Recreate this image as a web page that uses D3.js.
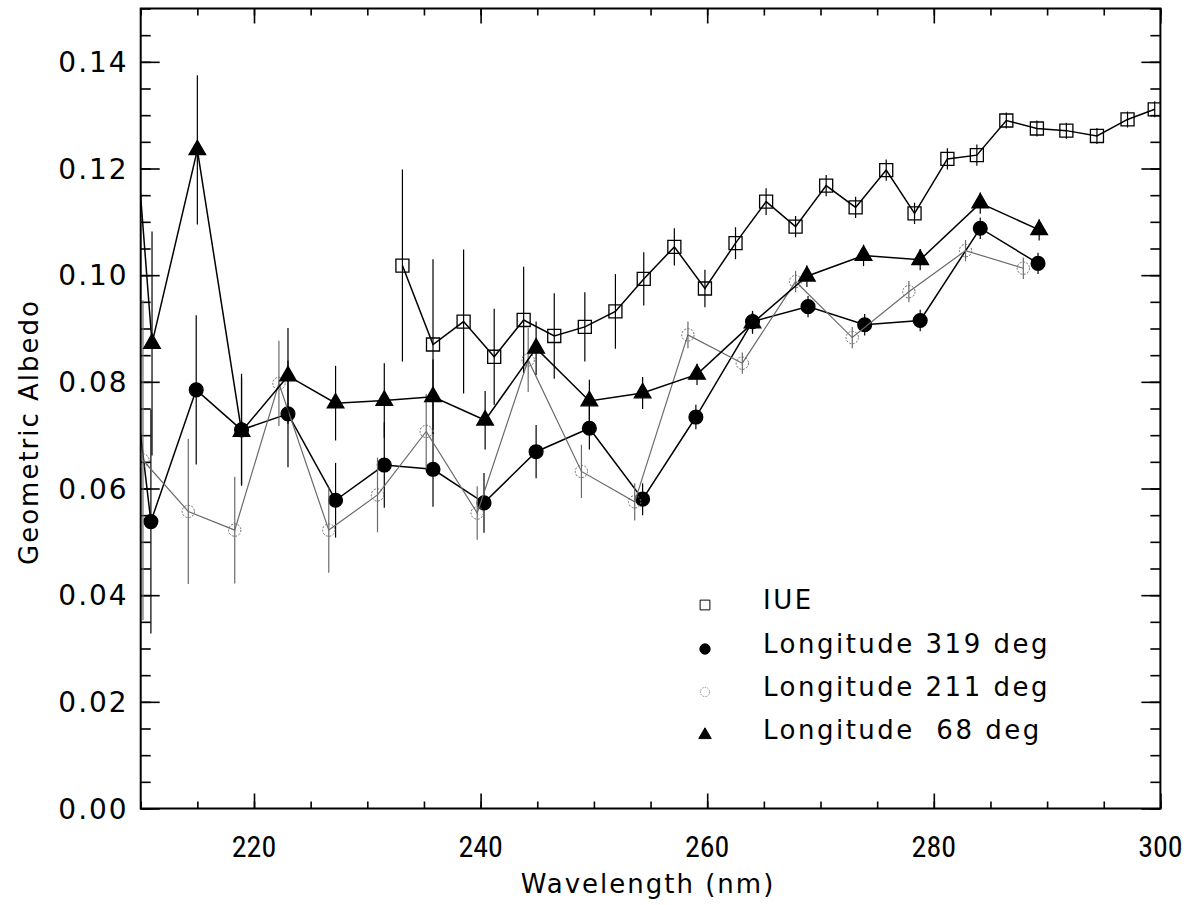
<!DOCTYPE html>
<html lang="en">
<head>
<meta charset="UTF-8">
<title>Geometric Albedo</title>
<script src="https://d3js.org/d3.v7.min.js"></script>
<style>
  body { margin: 0; background: #fff; }
  svg { display: block; }
</style>
</head>
<body>
<script>

// IUE
const iueWl = [233.1, 235.8, 238.5, 241.2, 243.8, 246.5, 249.2, 251.9, 254.4, 257.1, 259.8, 262.5, 265.2,
               267.8, 270.5, 273.1, 275.8, 278.3, 281.2, 283.8, 286.4, 289.1, 291.7, 294.4, 297.1, 299.5];
const iueAlb = [0.1018, 0.0870, 0.0913, 0.0847, 0.0916, 0.0886, 0.0903, 0.0932, 0.0993, 0.1053, 0.0975, 0.1060, 0.1138,
                0.1091, 0.1168, 0.1127, 0.1197, 0.1116, 0.1218, 0.1225, 0.1290, 0.1275, 0.1271, 0.1261, 0.1292, 0.1311];
const iueErr = [0.018, 0.016, 0.0135, 0.009, 0.010, 0.008, 0.0065, 0.007, 0.005, 0.0035, 0.0035, 0.003, 0.0025,
                0.002, 0.002, 0.002, 0.002, 0.002, 0.002, 0.002, 0.0015, 0.0015, 0.0015, 0.0015, 0.0015, 0.0015];

// Longitude 319 deg (first point lies left of the frame, only its line shows)
const lon319Wl = [207.0, 210.9, 214.9, 218.9, 223.0, 227.2, 231.5, 235.8, 240.3, 244.9, 249.6, 254.3, 259.0,
                  264.0, 268.9, 273.9, 278.8, 284.1, 289.2];
const lon319Alb = [0.124, 0.0538, 0.0785, 0.0710, 0.0740, 0.0578, 0.0644, 0.0636, 0.0573, 0.0669, 0.0713, 0.0580, 0.0734,
                   0.0913, 0.0941, 0.0907, 0.0915, 0.1088, 0.1022];
const lon319Err = [0, 0.021, 0.014, 0.0105, 0.010, 0.007, 0.008, 0.007, 0.0056, 0.005, 0.004, 0.003, 0.0023,
                   0.002, 0.002, 0.002, 0.002, 0.002, 0.002];

// Longitude 211 deg
const lon211Wl = [210.2, 214.2, 218.3, 222.2, 226.6, 230.9, 235.2, 239.7, 244.2, 248.9, 253.6, 258.3, 263.1,
                  267.8, 272.8, 277.8, 282.8, 287.9];
const lon211Alb = [0.0653, 0.0557, 0.0522, 0.0797, 0.0522, 0.0588, 0.0707, 0.0554, 0.0841, 0.0632, 0.0575, 0.0888, 0.0835,
                   0.0988, 0.0883, 0.0969, 0.1046, 0.1013];
const lon211Err = [0.03, 0.0136, 0.010, 0.008, 0.008, 0.007, 0.007, 0.005, 0.006, 0.005, 0.0035, 0.0025, 0.002,
                   0.002, 0.002, 0.002, 0.002, 0.002];

// Longitude 68 deg (first point lies left of the frame)
const lon68Wl = [207.0, 211.0, 215.0, 218.9, 223.0, 227.2, 231.5, 235.8, 240.4, 244.9, 249.6, 254.3, 259.1,
                 264.0, 268.8, 273.8, 278.8, 284.1, 289.3];
const lon68Alb = [0.197, 0.0872, 0.1235, 0.0707, 0.0811, 0.0760, 0.0765, 0.0772, 0.0728, 0.0863, 0.0764, 0.0779, 0.0814,
                  0.0910, 0.0998, 0.1037, 0.1029, 0.1135, 0.1085];
const lon68Err = [0, 0.021, 0.014, 0.010, 0.009, 0.007, 0.007, 0.007, 0.0055, 0.005, 0.004, 0.003, 0.002,
                  0.002, 0.002, 0.002, 0.002, 0.002, 0.002];

const xTicks = [220, 240, 260, 280, 300];
const yTicks = [0.00, 0.02, 0.04, 0.06, 0.08, 0.10, 0.12, 0.14];
const legendLabels = ['IUE', 'Longitude 319 deg', 'Longitude 211 deg', 'Longitude  68 deg'];

const W = 1194, H = 905;
const pLeft = 140.7, pRight = 1160.4, pTop = 8.5, pBottom = 808.5;
const textFont = 'DejaVu Sans';

const svg = d3.select('body').append('svg').attr('width', W).attr('height', H);

const x = d3.scaleLinear().domain([210, 300]).range([pLeft, pRight]);
const y = d3.scaleLinear().domain([0, 0.15]).range([pBottom, pTop]);

svg.append('clipPath').attr('id', 'plot')
   .append('rect').attr('x', pLeft).attr('y', pTop).attr('width', pRight - pLeft).attr('height', pBottom - pTop);

// axes: ticks inward on all four sides
const xMinor = d3.range(210, 300.1, 5);
const yMinor = d3.range(0, 0.1501, 0.005);

function drawAxis(axis, cls) {
   const g = svg.append('g').attr('class', cls).call(axis);
   g.select('.domain').remove();
   g.selectAll('line').attr('stroke', '#000').attr('stroke-width', 1.6);
   return g;
}

drawAxis(d3.axisBottom(x).tickValues(xMinor).tickSize(-7).tickFormat(''), 'xminor')
   .attr('transform', `translate(0,${pBottom})`);
drawAxis(d3.axisBottom(x).tickValues(xTicks).tickSize(-15).tickFormat(''), 'xmajor')
   .attr('transform', `translate(0,${pBottom})`);
drawAxis(d3.axisTop(x).tickValues(xMinor).tickSize(-7).tickFormat(''), 'xminor')
   .attr('transform', `translate(0,${pTop})`);
drawAxis(d3.axisTop(x).tickValues(xTicks).tickSize(-15).tickFormat(''), 'xmajor')
   .attr('transform', `translate(0,${pTop})`);
drawAxis(d3.axisLeft(y).tickValues(yMinor).tickSize(-10).tickFormat(''), 'yminor')
   .attr('transform', `translate(${pLeft},0)`);
drawAxis(d3.axisLeft(y).tickValues(yTicks).tickSize(-19).tickFormat(''), 'ymajor')
   .attr('transform', `translate(${pLeft},0)`);
drawAxis(d3.axisRight(y).tickValues(yMinor).tickSize(-10).tickFormat(''), 'yminor')
   .attr('transform', `translate(${pRight},0)`);
drawAxis(d3.axisRight(y).tickValues(yTicks).tickSize(-19).tickFormat(''), 'ymajor')
   .attr('transform', `translate(${pRight},0)`);

svg.append('rect')
   .attr('x', pLeft).attr('y', pTop).attr('width', pRight - pLeft).attr('height', pBottom - pTop)
   .attr('fill', 'none').attr('stroke', '#000').attr('stroke-width', 2);

// tick labels
svg.append('g').selectAll('text')
   .data(yTicks).enter().append('text')
   .attr('x', pLeft - 12).attr('y', d => y(d) + 10)
   .attr('text-anchor', 'end')
   .attr('font-family', textFont).attr('font-size', 28).attr('letter-spacing', 2)
   .text(d => d3.format('.2f')(d));

svg.append('g').selectAll('text')
   .data(xTicks).enter().append('text')
   .attr('x', d => x(d)).attr('y', pBottom + 48)
   .attr('text-anchor', 'middle')
   .attr('font-family', 'Liberation Sans Narrow, Roboto Condensed, Roboto').attr('font-size', 30)
   .text(d => d);

svg.append('text')
   .attr('x', 648).attr('y', 893)
   .attr('text-anchor', 'middle')
   .attr('font-family', textFont).attr('font-size', 26).attr('letter-spacing', 2)
   .text('Wavelength (nm)');

svg.append('text')
   .attr('transform', 'translate(38,432) rotate(-90)')
   .attr('text-anchor', 'middle')
   .attr('font-family', textFont).attr('font-size', 26).attr('letter-spacing', 2)
   .text('Geometric Albedo');

// data
const series = [
   { wl: iueWl, alb: iueAlb, err: iueErr, color: '#000', marker: 'square' },
   { wl: lon319Wl, alb: lon319Alb, err: lon319Err, color: '#000', marker: 'dot' },
   { wl: lon211Wl, alb: lon211Alb, err: lon211Err, color: '#6a6a6a', marker: 'ring' },
   { wl: lon68Wl, alb: lon68Alb, err: lon68Err, color: '#000', marker: 'triangle' }
];

const plot = svg.append('g').attr('clip-path', 'url(#plot)');
const line = d3.line().x(d => x(d.wl)).y(d => y(d.alb));

const symbols = {
   square: d3.symbol().type(d3.symbolSquare).size(170),
   dot: d3.symbol().type(d3.symbolCircle).size(150),
   ring: d3.symbol().type(d3.symbolCircle).size(120),
   triangle: d3.symbol().type(d3.symbolTriangle).size(120)
};

function drawMarker(sel, s) {
   sel.append('path')
      .attr('d', symbols[s.marker])
      .attr('fill', s.marker === 'dot' || s.marker === 'triangle' ? '#000' : 'none')
      .attr('stroke', s.color)
      .attr('stroke-width', s.marker === 'ring' ? 1 : 1.3)
      .attr('stroke-dasharray', s.marker === 'ring' ? '2,1.5' : null);
}

series.forEach(s => {
   const pts = s.wl.map((w, i) => ({ wl: w, alb: s.alb[i], err: s.err[i] }));
   const g = plot.append('g');

   g.selectAll('line.err')
      .data(pts.filter(d => d.err > 0)).enter().append('line')
      .attr('class', 'err')
      .attr('x1', d => x(d.wl)).attr('x2', d => x(d.wl))
      .attr('y1', d => y(d.alb - d.err)).attr('y2', d => y(d.alb + d.err))
      .attr('stroke', s.color).attr('stroke-width', 1.2);

   g.append('path').datum(pts)
      .attr('d', line)
      .attr('fill', 'none')
      .attr('stroke', s.color)
      .attr('stroke-width', s.marker === 'ring' ? 1.2 : 1.5);

   g.selectAll('g.m')
      .data(pts).enter().append('g')
      .attr('class', 'm')
      .attr('transform', d => `translate(${x(d.wl)},${y(d.alb)})`)
      .each(function () { drawMarker(d3.select(this), s); });
});

// legend
const legendY = [605, 649, 692, 735];
const legend = svg.append('g');
series.forEach((s, i) => {
   const g = legend.append('g').attr('transform', `translate(705,${legendY[i]})`);
   drawMarker(g, s);
   g.select('path').attr('transform', 'scale(0.75)');
   legend.append('text')
      .attr('x', 763).attr('y', legendY[i] + 4)
      .attr('font-family', textFont).attr('font-size', 26)
      .attr('letter-spacing', 2.5)
      .style('white-space', 'pre')
      .text(legendLabels[i]);
});

</script>
</body>
</html>
